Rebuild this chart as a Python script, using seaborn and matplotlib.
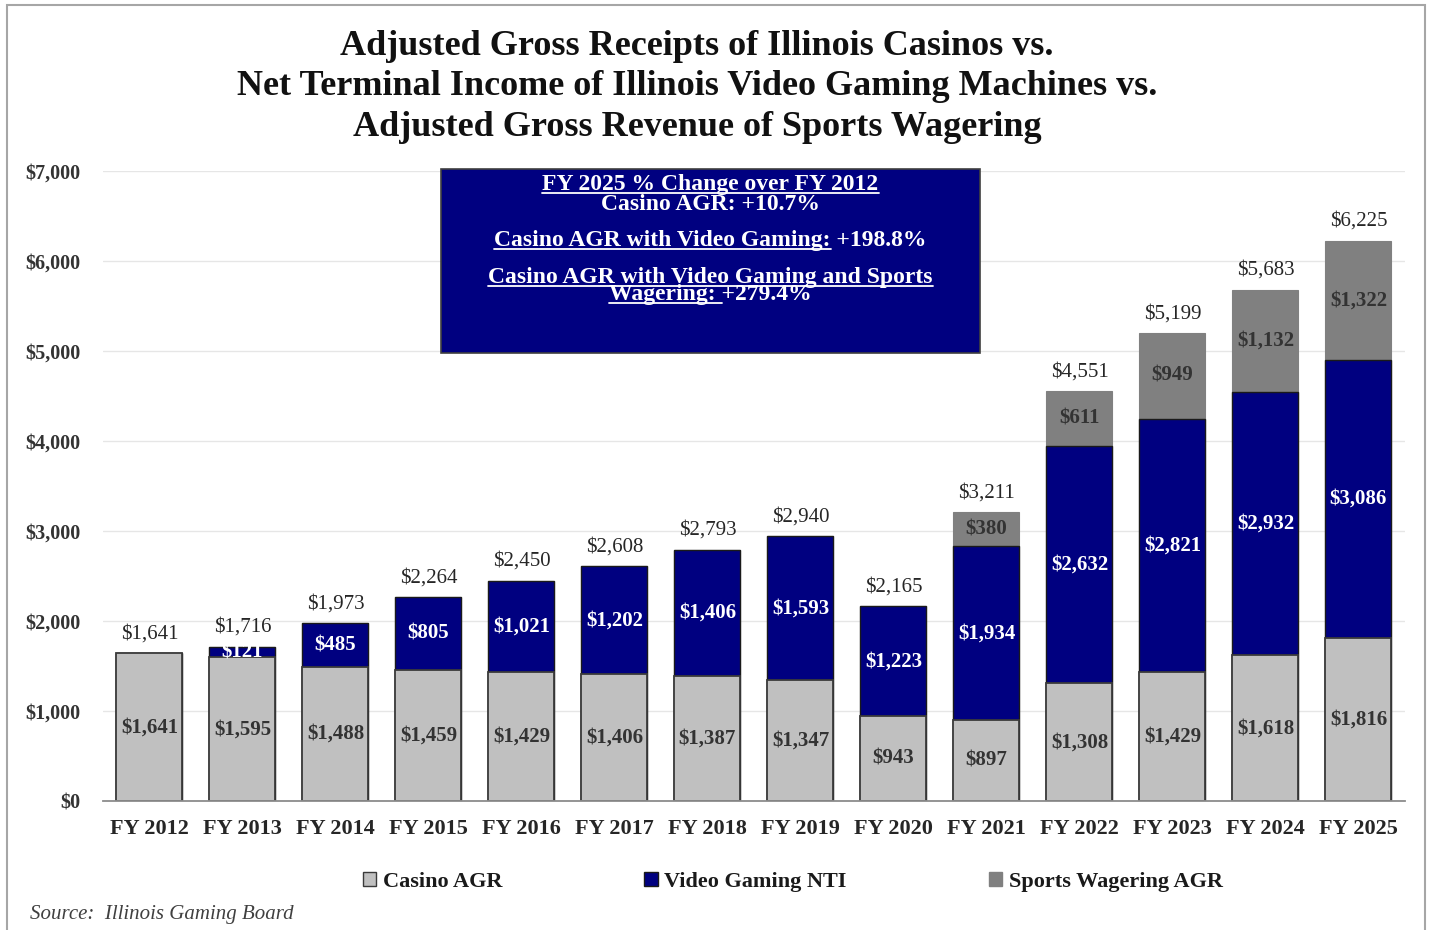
import matplotlib
matplotlib.use("Agg")
import matplotlib.pyplot as plt
from matplotlib.patches import Rectangle, Patch
from matplotlib.lines import Line2D
import seaborn as sns
import numpy as np

# data ($ millions)
years = ["FY 2012", "FY 2013", "FY 2014", "FY 2015", "FY 2016", "FY 2017", "FY 2018",
         "FY 2019", "FY 2020", "FY 2021", "FY 2022", "FY 2023", "FY 2024", "FY 2025"]
casino_agr = [1641, 1595, 1488, 1459, 1429, 1406, 1387, 1347, 943, 897, 1308, 1429, 1618, 1816]
video_nti = [0, 121, 485, 805, 1021, 1202, 1406, 1593, 1223, 1934, 2632, 2821, 2932, 3086]
sports_agr = [0, 0, 0, 0, 0, 0, 0, 0, 0, 380, 611, 949, 1132, 1322]
totals = [1641, 1716, 1973, 2264, 2450, 2608, 2793, 2940, 2165, 3211, 4551, 5199, 5683, 6225]

C_CASINO = "#C0C0C0"
C_VIDEO = "#000080"
C_SPORTS = "#808080"

sns.set_theme(style="white")
plt.rcParams["font.family"] = ["Liberation Serif", "DejaVu Serif"]

fig = plt.figure(figsize=(14.3, 9.3), dpi=100)
ax = fig.add_axes([0.072, 0.1387, 0.9105, 0.6774])

casino = np.array(casino_agr)
video = np.array(video_nti)
sports = np.array(sports_agr)

# stacked by overlaying cumulative heights
sns.barplot(x=years, y=casino + video + sports, color=C_SPORTS, saturation=1, width=0.71,
            edgecolor=C_SPORTS, linewidth=0.8, ax=ax)
sns.barplot(x=years, y=casino + video, color=C_VIDEO, saturation=1, width=0.71,
            edgecolor="#1a1a1a", linewidth=1.0, ax=ax)
sns.barplot(x=years, y=casino, color=C_CASINO, saturation=1, width=0.71,
            edgecolor="#3a3a3a", linewidth=1.3, ax=ax)

ax.set_xlim(-0.5, len(years) - 0.5)
ax.set_ylim(0, 7000)
ax.set_yticks(range(0, 7001, 1000))
ax.set_yticklabels([f"${v:,}" for v in range(0, 7001, 1000)])
ax.set_xlabel("")
ax.set_ylabel("")
ax.yaxis.grid(True, color="#E6E6E6", lw=1)
ax.set_axisbelow(True)
for s in ["left", "top", "right"]:
    ax.spines[s].set_visible(False)
ax.spines["bottom"].set_color("#8c8c8c")
ax.spines["bottom"].set_linewidth(1.3)
ax.tick_params(axis="y", length=0, pad=16, labelsize=14.5, labelcolor="#333333")
ax.tick_params(axis="x", length=0, pad=13, labelsize=16, labelcolor="#262626")
for t in ax.get_yticklabels() + ax.get_xticklabels():
    t.set_fontweight("bold")

# value labels
for i in range(len(years)):
    c, v, s = casino_agr[i], video_nti[i], sports_agr[i]
    ax.text(i, c / 2, f"${c:,}", ha="center", va="center", fontsize=15,
            fontweight="bold", color="#333333")
    if v:
        ax.text(i, c + v / 2, f"${v:,}", ha="center", va="center", fontsize=15,
                fontweight="bold", color="white")
    if s:
        ax.text(i, c + v + s / 2, f"${s:,}", ha="center", va="center", fontsize=15,
                fontweight="bold", color="#333333")
    ax.text(i, c + v + s + 110, f"${totals[i]:,}", ha="center", va="bottom",
            fontsize=15, color="#262626")

# info box
ax.add_patch(Rectangle((0.2596, 0.711), 0.414, 0.292, transform=ax.transAxes,
                       facecolor=C_VIDEO, edgecolor="#404040", lw=1.2, zorder=5,
                       clip_on=False))
box_lines = [
    ("FY 2025 % Change over FY 2012", "FY 2025 % Change over FY 2012", 190),
    ("Casino AGR: +10.7%", "", 210),
    ("Casino AGR with Video Gaming: +198.8%", "Casino AGR with Video Gaming:", 246),
    ("Casino AGR with Video Gaming and Sports", "Casino AGR with Video Gaming and Sports", 283),
    ("Wagering: +279.4%", "Wagering: ", 300),
]
fig.canvas.draw()
renderer = fig.canvas.get_renderer()
for full, under, ypix in box_lines:
    yax = (801 - ypix) / 630
    txt = ax.text(0.4666, yax, full, transform=ax.transAxes, ha="center", va="baseline",
                  fontsize=17, fontweight="bold", color="white", zorder=6)
    if under:
        tmp = ax.text(0, 0, under, transform=ax.transAxes, fontsize=17,
                      fontweight="bold")
        w = tmp.get_window_extent(renderer).width
        tmp.remove()
        bb = txt.get_window_extent(renderer)
        x0 = ax.transAxes.inverted().transform((bb.x0, 0))[0]
        x1 = ax.transAxes.inverted().transform((bb.x0 + w, 0))[0]
        yu = yax - 2.5 / 630
        ax.add_line(Line2D([x0, x1], [yu, yu], transform=ax.transAxes, color="white",
                           lw=1.3, zorder=6, clip_on=False))

# title
fig.text(0.4875, 0.9065,
         "Adjusted Gross Receipts of Illinois Casinos vs.\n"
         "Net Terminal Income of Illinois Video Gaming Machines vs.\n"
         "Adjusted Gross Revenue of Sports Wagering",
         ha="center", va="center", fontsize=26, fontweight="bold", color="#111111",
         linespacing=1.3)

# legend
handles = [Patch(facecolor=C_CASINO, edgecolor="#3a3a3a", lw=1),
           Patch(facecolor=C_VIDEO, edgecolor="#1a1a1a", lw=1),
           Patch(facecolor=C_SPORTS, edgecolor=C_SPORTS, lw=1)]
fig.legend(handles, ["Casino AGR", "Video Gaming NTI", "Sports Wagering AGR"],
           loc="center", bbox_to_anchor=(0.5545, 0.0516), ncol=3, frameon=False,
           prop={"size": 16, "weight": "bold"}, handlelength=0.6, handleheight=0.6,
           handletextpad=0.3, columnspacing=6.4, labelcolor="#1a1a1a")

fig.text(0.021, 0.0172, "Source:  Illinois Gaming Board", ha="left", va="center",
         fontsize=15, style="italic", color="#404040")

fig.patches.append(Rectangle((0.0049, -0.01), 0.9916, 1.0046, transform=fig.transFigure,
                             fill=False, edgecolor="#A6A6A6", lw=1.5))

fig.savefig("out.png", dpi=100)
